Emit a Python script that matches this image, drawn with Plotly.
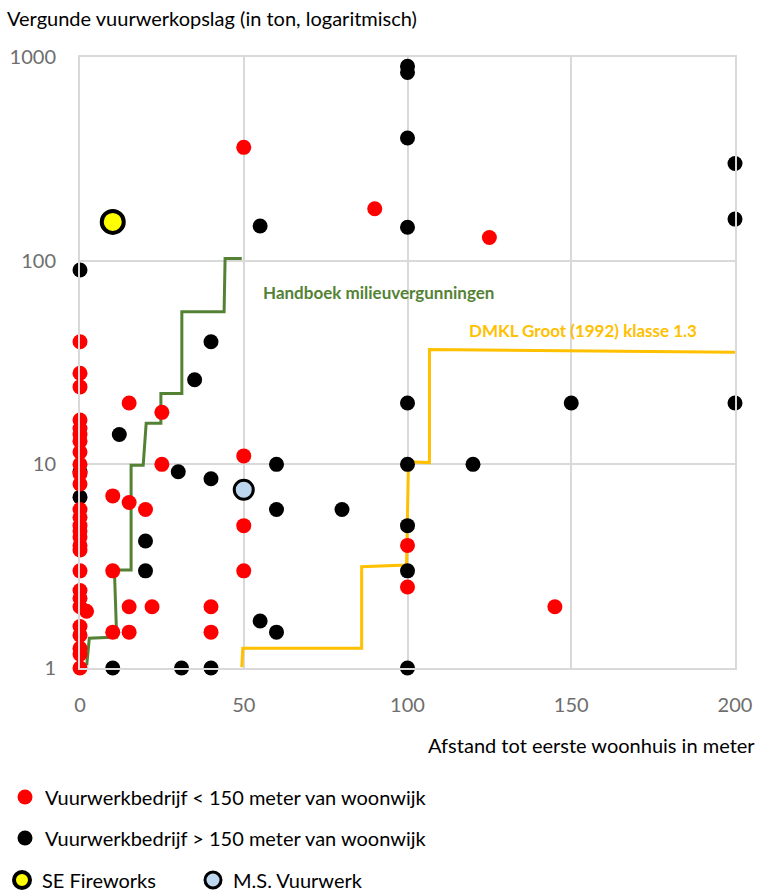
import plotly.graph_objects as go

# ---- data ----
red_x = [0]*27 + [2, 15, 25, 25, 10, 15, 20, 10, 15, 22, 10, 15, 50, 50, 50, 50, 40, 40, 100, 100, 90, 125, 145]
red_y = [40, 28, 24, 16.5, 15, 14, 13, 11.5, 10, 9, 8, 6, 5.5, 5, 4.7, 4.4, 4, 3.8, 3, 2.4, 2.2, 2, 1.6, 1.45, 1.25, 1.17, 1,
         1.9, 20, 18, 10, 7, 6.5, 6, 3, 2, 2, 1.5, 1.5, 360, 11, 5, 3, 2, 1.5, 4, 2.5, 180, 130, 2]

black_x = [0, 0, 0, 12, 20, 20, 10, 31, 40, 30, 40, 40, 35, 60, 60, 80, 55, 60, 55,
           100, 100, 100, 100, 100, 100, 100, 100, 100, 120, 150, 200, 200, 200]
black_y = [90, 9.2, 6.9, 14, 4.2, 3, 1, 1, 1, 9.2, 8.5, 40, 26, 10, 6, 6, 1.7, 1.5, 148,
           900, 840, 400, 146, 20, 10, 5, 3, 1, 10, 20, 20, 300, 160]

se_x = [10]
se_y = [155]
ms_x = [50]
ms_y = [7.5]

green_x = [2.05, 2.84, 11.2, 10.5, 15.6, 15.6, 19.3, 20.2, 24.7, 24.7, 31.1, 31.1, 44.0, 44.3, 49.4]
green_y = [1.03, 1.40, 1.42, 3.03, 3.03, 9.9, 9.9, 15.9, 15.9, 22.3, 22.3, 56.2, 56.2, 102.4, 102.4]

orange_x = [49.4, 49.7, 86.0, 86.0, 99.7, 100.3, 106.7, 106.7, 200]
orange_y = [1.01, 1.25, 1.25, 3.14, 3.2, 10.3, 10.2, 36.6, 35.5]

x_ticks = [0, 50, 100, 150, 200]
y_ticks = [1, 10, 100, 1000]
y_ticktext = ["1", "10", "100", "1000"]

FONT = "Lato, 'Open Sans', sans-serif"
GREEN = "#548235"
ORANGE = "#FFC000"
GRID = "#D9D9D9"

fig = go.Figure()

fig.add_trace(go.Scatter(x=green_x, y=green_y, mode="lines", line=dict(color=GREEN, width=3),
                         showlegend=False, cliponaxis=False, hoverinfo="skip"))
fig.add_trace(go.Scatter(x=orange_x, y=orange_y, mode="lines", line=dict(color=ORANGE, width=3),
                         showlegend=False, cliponaxis=False, hoverinfo="skip"))

fig.add_trace(go.Scatter(x=black_x, y=black_y, mode="markers",
                         marker=dict(color="black", size=15),
                         name="Vuurwerkbedrijf > 150 meter van woonwijk",
                         legend="legend2", cliponaxis=False))
fig.add_trace(go.Scatter(x=red_x, y=red_y, mode="markers",
                         marker=dict(color="#FF0000", size=15),
                         name="Vuurwerkbedrijf < 150 meter van woonwijk",
                         legend="legend", cliponaxis=False))
fig.add_trace(go.Scatter(x=se_x, y=se_y, mode="markers",
                         marker=dict(color="#FFFF00", size=22, line=dict(color="black", width=4)),
                         name="SE Fireworks", legend="legend3", cliponaxis=False))
fig.add_trace(go.Scatter(x=ms_x, y=ms_y, mode="markers",
                         marker=dict(color="#BDD7EE", size=19, line=dict(color="black", width=3)),
                         name="M.S. Vuurwerk", legend="legend4", cliponaxis=False))

L, R, T, B = 80, 26, 57, 224
W, H = 761, 892
pw = W - L - R
ph = H - T - B

def px2x(px):
    return (px - L) / pw

def py2y(py):
    return (H - B - py) / ph

leg_common = dict(font=dict(family=FONT, size=20, color="black"), bgcolor="rgba(0,0,0,0)",
                  xanchor="left", yanchor="middle", borderwidth=0)

fig.update_layout(
    width=W, height=H,
    margin=dict(l=L, r=R, t=T, b=B, autoexpand=False),
    plot_bgcolor="white", paper_bgcolor="white",
    font=dict(family=FONT),
    xaxis=dict(range=[0, 200], tickvals=x_ticks, showgrid=True, gridcolor=GRID, gridwidth=2,
               zeroline=False, showline=True, linecolor=GRID, linewidth=2, mirror=True,
               tickfont=dict(family=FONT, size=20, color="#6E6E6E"), ticks="",
               ticklabelstandoff=18, automargin=False),
    yaxis=dict(type="log", range=[0, 3], tickvals=y_ticks, ticktext=y_ticktext,
               showgrid=True, gridcolor=GRID, gridwidth=2,
               zeroline=False, showline=True, linecolor=GRID, linewidth=2, mirror=True,
               tickfont=dict(family=FONT, size=20, color="#6E6E6E"), ticks="",
               ticklabelstandoff=18, automargin=False),
    legend=dict(x=px2x(5), y=py2y(797), **leg_common),
    legend2=dict(x=px2x(5), y=py2y(838), **leg_common),
    legend3=dict(x=px2x(2), y=py2y(880), **leg_common),
    legend4=dict(x=px2x(193), y=py2y(880), **leg_common),
    annotations=[
        dict(text="Vergunde vuurwerkopslag (in ton, logaritmisch)", xref="paper", yref="paper",
             x=px2x(5), y=py2y(18), xanchor="left", yanchor="middle", showarrow=False,
             font=dict(family=FONT, size=20, color="black")),
        dict(text="Afstand tot eerste woonhuis in meter", xref="paper", yref="paper",
             x=px2x(757), y=py2y(745), xanchor="right", yanchor="middle", showarrow=False,
             font=dict(family=FONT, size=20, color="black")),
        dict(text="<b>Handboek milieuvergunningen</b>", xref="x", yref="y",
             x=(261 - L) / pw * 200, y=1.846, xanchor="left", yanchor="middle", showarrow=False,
             font=dict(family=FONT, size=17, color=GREEN)),
        dict(text="<b>DMKL Groot (1992) klasse 1.3</b>", xref="x", yref="y",
             x=(467 - L) / pw * 200, y=1.659, xanchor="left", yanchor="middle", showarrow=False,
             font=dict(family=FONT, size=17, color=ORANGE)),
    ],
)

fig.write_html("out.html", config={"displayModeBar": False},
               post_script="document.body.style.margin='0px';document.body.style.overflow='hidden';")
